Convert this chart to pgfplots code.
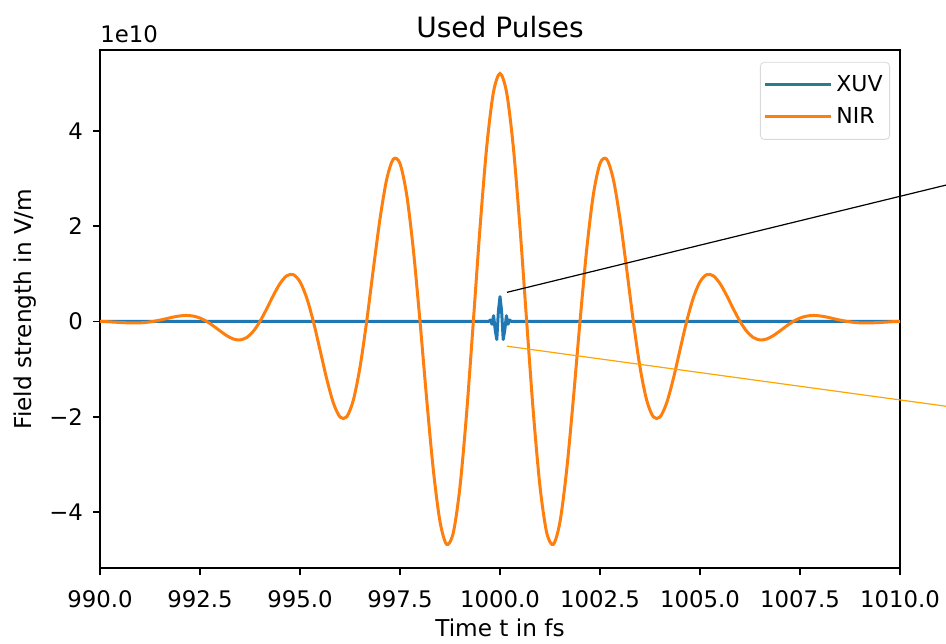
\documentclass[border=0pt]{standalone}
\usepackage{fontspec}
\setmainfont{DejaVu Sans}
\usepackage{pgfplots}
\usepackage{pgfplotstable}
\pgfplotsset{compat=1.18}

\definecolor{nir}{HTML}{FF7F0E}
\definecolor{xuv}{HTML}{1F77B4}
\definecolor{xuvleg}{HTML}{2A7F86}
\definecolor{zoomline}{HTML}{FFA500}

% NIR field (units of 1e10 V/m)
\pgfplotstableread{
t E
990.0000 0
990.1667 -0.006
990.3333 -0.014
990.5000 -0.022
990.6667 -0.029
990.8333 -0.032
991.0000 -0.030
991.1667 -0.019
991.3333 0
991.5000 0.027
991.6667 0.059
991.8333 0.091
992.0000 0.115
992.1667 0.125
992.3333 0.111
992.5000 0.070
992.6667 0
992.8333 -0.094
993.0000 -0.199
993.1667 -0.298
993.3333 -0.369
993.5000 -0.389
993.6667 -0.338
993.8333 -0.207
994.0000 0
994.1667 0.263
994.3333 0.544
994.5000 0.794
994.6667 0.956
994.8333 0.981
995.0000 0.830
995.1667 0.496
995.3333 0
995.5000 -0.596
995.6667 -1.202
995.8333 -1.709
996.0000 -2.006
996.1667 -2.003
996.3333 -1.652
996.5000 -0.960
996.6667 0
996.8333 1.096
997.0000 2.152
997.1667 2.979
997.3333 3.405
997.5000 3.312
997.6667 2.659
997.8333 1.505
998.0000 0
998.1667 -1.629
998.3333 -3.117
998.5000 -4.202
998.6667 -4.678
998.8333 -4.430
999.0000 -3.465
999.1667 -1.909
999.3333 0
999.5000 1.961
999.6667 3.653
999.8333 4.796
1000.0000 5.200
1000.1667 4.796
1000.3333 3.653
1000.5000 1.961
1000.6667 0
1000.8333 -1.909
1001.0000 -3.465
1001.1667 -4.430
1001.3333 -4.678
1001.5000 -4.202
1001.6667 -3.117
1001.8333 -1.629
1002.0000 0
1002.1667 1.505
1002.3333 2.659
1002.5000 3.312
1002.6667 3.405
1002.8333 2.979
1003.0000 2.152
1003.1667 1.096
1003.3333 0
1003.5000 -0.960
1003.6667 -1.652
1003.8333 -2.003
1004.0000 -2.006
1004.1667 -1.709
1004.3333 -1.202
1004.5000 -0.596
1004.6667 0
1004.8333 0.496
1005.0000 0.830
1005.1667 0.981
1005.3333 0.956
1005.5000 0.794
1005.6667 0.544
1005.8333 0.263
1006.0000 0
1006.1667 -0.207
1006.3333 -0.338
1006.5000 -0.389
1006.6667 -0.369
1006.8333 -0.298
1007.0000 -0.199
1007.1667 -0.094
1007.3333 0
1007.5000 0.070
1007.6667 0.111
1007.8333 0.125
1008.0000 0.115
1008.1667 0.091
1008.3333 0.059
1008.5000 0.027
1008.6667 0
1008.8333 -0.019
1009.0000 -0.030
1009.1667 -0.032
1009.3333 -0.029
1009.5000 -0.022
1009.6667 -0.014
1009.8333 -0.006
1010.0000 0
}\nirdata

% XUV field (units of 1e10 V/m)
\pgfplotstableread{
t E
990.00 0
999.72 0
999.76 0.03
999.80 -0.06
999.84 0.12
999.88 -0.18
999.92 -0.38
999.96 0.22
1000.00 0.52
1000.04 0.22
1000.08 -0.38
1000.12 -0.18
1000.16 0.12
1000.20 -0.06
1000.24 0.03
1000.28 0
1010.00 0
}\xuvdata

\begin{document}
\begin{tikzpicture}
\begin{axis}[
  name=ax,
  scale only axis,
  width=400pt, height=259pt,
  xmin=990, xmax=1010,
  ymin=-5.174, ymax=5.694,
  xtick={990,992.5,995,997.5,1000,1002.5,1005,1007.5,1010},
  xticklabels={990.0,992.5,995.0,997.5,1000.0,1002.5,1005.0,1007.5,1010.0},
  ytick={-4,-2,0,2,4},
  yticklabels={−4,−2,0,2,4},
  tick pos=left,
  tick align=outside,
  major tick length=3.5pt,
  tick style={line width=0.8pt, black},
  axis line style={line width=0.8pt},
  ticklabel style={font=\fontsize{11.4}{13}\selectfont},
  xticklabel style={yshift=-4.5pt},
  yticklabel style={xshift=-1.5pt},
  xlabel={Time t in fs},
  ylabel={Field strength in V/m},
  label style={font=\fontsize{11.6}{13}\selectfont},
  xlabel style={at={(axis description cs:0.5,-0.1158)}, anchor=center},
  ylabel style={at={(axis description cs:-0.09375,0.5)}, anchor=center},
  clip=false,
  legend cell align=left,
  legend image code/.code={%
    \path (0pt,0pt) -- (33pt,0pt);
    \draw[#1] (0pt,0pt) -- (26pt,0pt);},
  legend style={
    at={(axis description cs:0.9875,0.977)}, anchor=north east,
    draw=black!15, rounded corners=2pt, fill=white,
    font=\fontsize{11}{13}\selectfont,
    inner xsep=1.5pt, inner ysep=4.5pt, row sep=2.5pt,
  },
]
\addlegendimage{xuvleg, line width=1.5pt}
\addlegendentry{XUV}
\addplot[xuv, line width=1.5pt, line join=round, forget plot] table[x=t, y=E] {\xuvdata};
\addplot[nir, line width=1.5pt, smooth] table[x=t, y=E] {\nirdata};
\addlegendentry{NIR}
% zoom connector lines
\addplot[black, line width=0.6pt, forget plot] coordinates {(1000.175,0.61) (1011.15,2.86)};
\addplot[zoomline, line width=0.6pt, forget plot] coordinates {(1000.175,-0.52) (1011.15,-1.78)};
% offset label and title
\node[anchor=south west, inner sep=0pt, font=\fontsize{11.4}{13}\selectfont]
  at (axis description cs:0,1) [yshift=3.5pt] {1e10};
\node[anchor=base, inner sep=0pt, font=\fontsize{14}{16}\selectfont]
  at (axis description cs:0.5,1) [yshift=6.5pt] {Used Pulses};
\end{axis}
\pgfresetboundingbox
\path ([shift={(-50pt,-37.5pt)}]ax.south west) rectangle ([shift={(23pt,25pt)}]ax.north east);
\end{tikzpicture}
\end{document}
